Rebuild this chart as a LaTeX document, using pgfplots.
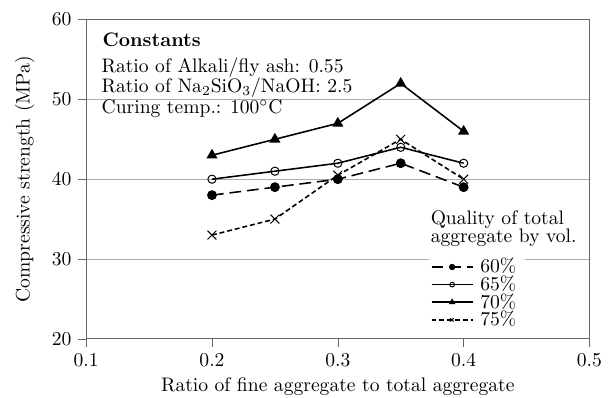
\documentclass[border=0pt]{standalone}
\usepackage{pgfplots}
\pgfplotsset{compat=1.18}
\begin{document}
\begin{tikzpicture}
\begin{axis}[
  scale only axis, width=257pt, height=163pt,
  xmin=0.1, xmax=0.5, ymin=20, ymax=60,
  xtick={0.1,0.2,0.3,0.4,0.5}, ytick={20,30,40,50,60},
  xticklabel style={/pgf/number format/fixed, /pgf/number format/precision=1},
  tick align=outside, xtick pos=bottom, ytick pos=left,
  axis line style={gray!80!black}, major tick style={gray!80!black}, major tick length=4pt,
  ymajorgrids, grid style={gray!65},
  xlabel={Ratio of fine aggregate to total aggregate},
  ylabel={Compressive strength (MPa)},
  ylabel shift=2pt, xlabel shift=-1pt,
  legend style={at={(rel axis cs:0.68,0.012)}, anchor=south west, draw=none, fill=white,
    name=leg, inner sep=1pt, row sep=-4pt, legend cell align=left,
    nodes={inner xsep=3.5pt}},
  legend image code/.code={\draw[mark repeat=2, mark phase=2, mark size=1.2pt] plot coordinates {(0cm,0cm) (0.37cm,0cm) (0.74cm,0cm)};},
  every axis plot/.append style={black, line width=0.8pt},
]
\addplot[dash pattern=on 6pt off 3pt, mark=*, mark size=2.1pt, mark options={solid}] coordinates {(0.2,38) (0.25,39) (0.3,40) (0.35,42) (0.4,39)};
\addlegendentry{60\%}
\addplot[solid, mark=o, mark size=2.1pt, mark options={line width=0.5pt}] coordinates {(0.2,40) (0.25,41) (0.3,42) (0.35,44) (0.4,42)};
\addlegendentry{65\%}
\addplot[solid, mark=triangle*, mark size=2.5pt] coordinates {(0.2,43) (0.25,45) (0.3,47) (0.35,52) (0.4,46)};
\addlegendentry{70\%}
\addplot[dash pattern=on 2.5pt off 1.5pt, mark=x, mark size=3.2pt, mark options={solid, line width=0.5pt}] coordinates {(0.2,33) (0.25,35) (0.3,40.5) (0.35,45) (0.4,40)};
\addlegendentry{75\%}
\coordinate (O) at (rel axis cs:0,0);
\coordinate (T) at (rel axis cs:1,1);
\coordinate (C) at (rel axis cs:0.03,0.915);
\end{axis}
\node[anchor=base west, fill=white, inner sep=0.5pt, font=\bfseries] (c1) at (C) {Constants};
\node[anchor=base west, inner sep=0pt] (c2) at ([yshift=-13.3pt]c1.base west) {Ratio of Alkali/fly ash: 0.55};
\node[anchor=base west, inner sep=0pt] (c3) at ([yshift=-10.1pt]c2.base west) {Ratio of Na$_2$SiO$_3$/NaOH: 2.5};
\node[anchor=base west, fill=white, inner sep=0pt] (c4) at ([yshift=-10.8pt]c3.base west) {Curing temp.: 100$^\circ$C};
\node[anchor=south west, fill=white, align=left, inner sep=1pt] at ([yshift=1.5pt]leg.north west) {Quality of total\\[-2.8pt]aggregate by vol.};
\pgfresetboundingbox
\useasboundingbox ([shift={(-44pt,-30pt)}]O) rectangle ([shift={(11pt,10pt)}]T);
\end{tikzpicture}
\end{document}
